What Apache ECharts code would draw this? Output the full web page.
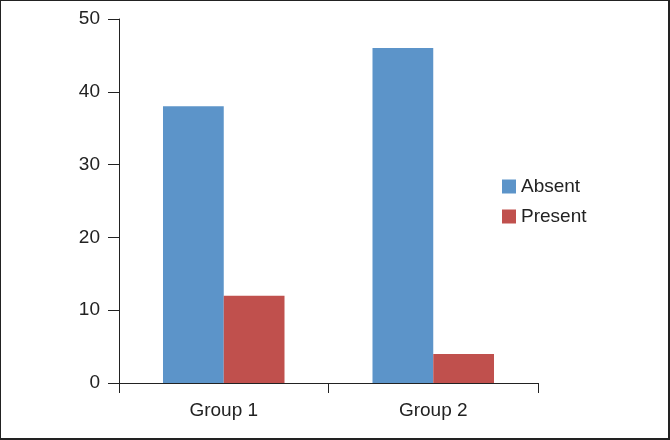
<!DOCTYPE html>
<html>
<head>
<meta charset="utf-8">
<script src="https://cdn.jsdelivr.net/npm/echarts@6/dist/echarts.min.js"></script>
<style>
html,body{margin:0;padding:0;background:#fff;}
#wrap{position:relative;width:670px;height:440px;}
#chart{position:absolute;left:0;top:0;width:670px;height:440px;}
#frame{position:absolute;left:0;top:0;width:670px;height:440px;box-sizing:border-box;border-style:solid;border-color:#222;border-width:1px 2px 2px 1px;pointer-events:none;}
</style>
</head>
<body>
<div id="wrap"><div id="chart"></div><div id="frame"></div></div>
<script>
const categories = ['Group 1', 'Group 2'];
const absentValues = [38, 46];
const presentValues = [12, 4];
const seriesNames = ['Absent', 'Present'];

const chart = echarts.init(document.getElementById('chart'), null, {renderer: 'canvas'});
const font = 'Liberation Sans, Arial, sans-serif';
chart.setOption({
  animation: false,
  backgroundColor: '#fff',
  grid: {left: 119, right: 132, top: 19, bottom: 57, containLabel: false},
  legend: {
    orient: 'vertical', left: 497, top: 172,
    itemWidth: 14, itemHeight: 14, itemGap: 11,
    icon: 'rect',
    textStyle: {fontFamily: font, fontSize: 19, color: '#222', padding: [0, 0, 0, 0]},
    data: seriesNames
  },
  xAxis: {
    type: 'category',
    data: categories,
    axisLine: {lineStyle: {color: '#222', width: 1}},
    axisTick: {show: true, length: 10, lineStyle: {color: '#222'}},
    axisLabel: {fontFamily: font, fontSize: 19, color: '#222', margin: 18}
  },
  yAxis: {
    type: 'value', min: 0, max: 50, interval: 10,
    axisLine: {show: true, lineStyle: {color: '#222', width: 1}},
    axisTick: {show: true, length: 11, lineStyle: {color: '#222'}},
    axisLabel: {fontFamily: font, fontSize: 19, color: '#222', margin: 19},
    splitLine: {show: false}
  },
  series: [
    {name: seriesNames[0], type: 'bar', data: absentValues, itemStyle: {color: '#5c94c9'}, barGap: '0%', barCategoryGap: '42%'},
    {name: seriesNames[1], type: 'bar', data: presentValues, itemStyle: {color: '#c0504d'}, barGap: '0%', barCategoryGap: '42%'}
  ]
});
</script>
</body>
</html>
